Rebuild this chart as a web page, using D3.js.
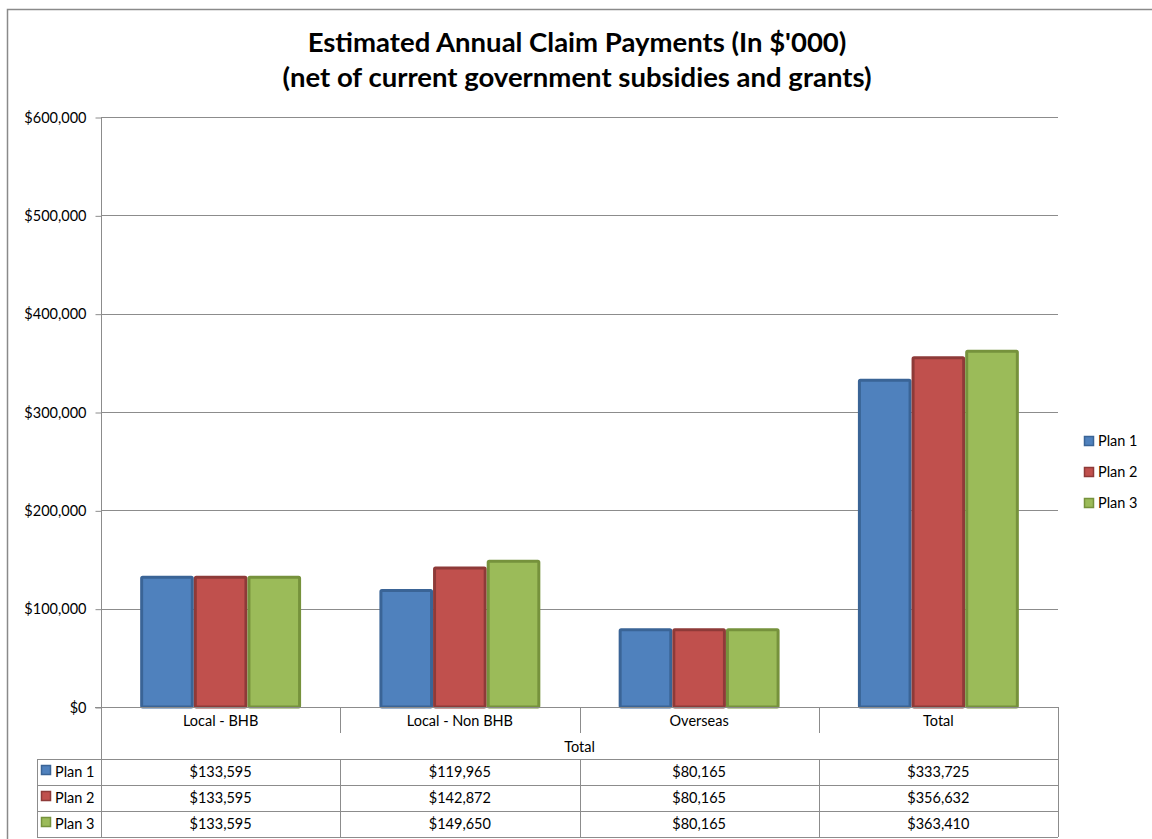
<!DOCTYPE html>
<html>
<head>
<meta charset="utf-8">
<script src="https://cdn.jsdelivr.net/npm/d3@7"></script>
<style>
  body { margin: 0; background: #fff; }
  svg { display: block; font-family: Lato, "Open Sans", sans-serif; }
</style>
</head>
<body>
<svg id="chart"></svg>
<script>
// chart data
var categories = ["Local - BHB", "Local - Non BHB", "Overseas", "Total"];
var series = ["Plan 1", "Plan 2", "Plan 3"];
var plan1 = [133595, 119965, 80165, 333725];
var plan2 = [133595, 142872, 80165, 356632];
var plan3 = [133595, 149650, 80165, 363410];
var yTicks = [0, 100000, 200000, 300000, 400000, 500000, 600000];
var titleLines = ["Estimated Annual Claim Payments (In $'000)", "(net of current government subsidies and grants)"];
var groupLabel = "Total";

var values = [plan1, plan2, plan3];
var fills = ["#4F81BD", "#C0504D", "#9BBB59"];
var strokes = ["#3A6496", "#8E3A38", "#76923C"];
var gridColor = "#8c8c8c";
var fs = 14.5;

var W = 1152, H = 839;
var svg = d3.select("#chart").attr("width", W).attr("height", H);

// outer chart border
svg.append("rect")
    .attr("x", 7.5).attr("y", 9.5)
    .attr("width", W).attr("height", H)
    .attr("fill", "none").attr("stroke", "#8a8a8a").attr("stroke-width", 1.5);

var plotL = 101, plotR = 1058, plotT = 117, plotB = 707;

var x0 = d3.scaleBand().domain(categories).range([plotL, plotR]);
var x1 = d3.scaleBand().domain(series).range([0, x0.bandwidth()]).paddingOuter(0.73);
var y = d3.scaleLinear().domain([0, 600000]).range([plotB, plotT]);

// title
svg.append("g").selectAll("text")
    .data(titleLines)
    .join("text")
    .attr("x", 577).attr("y", function (d, i) { return 52 + i * 35; })
    .attr("text-anchor", "middle")
    .attr("font-size", 27.5).attr("font-weight", "bold").attr("fill", "#000")
    .text(function (d) { return d; });

// gridlines
svg.append("g").selectAll("line")
    .data(yTicks.slice(1))
    .join("line")
    .attr("x1", plotL).attr("x2", plotR)
    .attr("y1", function (d) { return Math.round(y(d)) + 0.5; })
    .attr("y2", function (d) { return Math.round(y(d)) + 0.5; })
    .attr("stroke", gridColor);

// y axis
var yAxis = svg.append("g")
    .attr("transform", "translate(" + (plotL + 0.5) + ",0.5)")
    .call(d3.axisLeft(y).tickValues(yTicks).tickSize(6).tickPadding(9)
        .tickFormat(function (d) { return "$" + d3.format(",")(d); }));
yAxis.select(".domain").remove();
yAxis.selectAll("line").attr("stroke", gridColor);
yAxis.selectAll("text").attr("font-size", fs).attr("font-family", "Lato, sans-serif").attr("fill", "#000");

// bars
var groups = svg.append("g").selectAll("g")
    .data(series)
    .join("g");
groups.selectAll("rect")
    .data(function (s, si) { return values[si].map(function (v, ci) { return { s: s, si: si, c: categories[ci], v: v }; }); })
    .join("rect")
    .attr("x", function (d) { return x0(d.c) + x1(d.s) + 1.5; })
    .attr("y", function (d) { return y(d.v) + 1.5; })
    .attr("width", x1.bandwidth() - 3)
    .attr("height", function (d) { return plotB - y(d.v) - 1.5; })
    .attr("fill", function (d) { return fills[d.si]; })
    .attr("stroke", function (d) { return strokes[d.si]; })
    .attr("stroke-width", 3)
    .attr("rx", 1);

// data table
var tbl = svg.append("g").attr("stroke", gridColor).attr("fill", "none");
var rowTop = 759, rowH = 26, tblLeft = 37;
// horizontal axis line and table rules
tbl.append("line").attr("x1", 95).attr("x2", plotR).attr("y1", plotB + 0.5).attr("y2", plotB + 0.5);
for (var r = 0; r <= series.length; r++) {
    tbl.append("line").attr("x1", tblLeft).attr("x2", plotR)
        .attr("y1", rowTop + r * rowH + 0.5).attr("y2", rowTop + r * rowH + 0.5);
}
// verticals
tbl.append("line").attr("x1", plotL + 0.5).attr("x2", plotL + 0.5).attr("y1", plotT).attr("y2", rowTop + 3 * rowH);
tbl.append("line").attr("x1", plotR + 0.5).attr("x2", plotR + 0.5).attr("y1", plotB).attr("y2", rowTop + 3 * rowH);
tbl.append("line").attr("x1", tblLeft + 0.5).attr("x2", tblLeft + 0.5).attr("y1", rowTop).attr("y2", rowTop + 3 * rowH);
categories.slice(1).forEach(function (c) {
    var xx = Math.round(x0(c)) + 0.5;
    tbl.append("line").attr("x1", xx).attr("x2", xx).attr("y1", plotB).attr("y2", plotB + 26);
    tbl.append("line").attr("x1", xx).attr("x2", xx).attr("y1", rowTop).attr("y2", rowTop + 3 * rowH);
});

// category labels
svg.append("g").selectAll("text")
    .data(categories)
    .join("text")
    .attr("x", function (d) { return x0(d) + x0.bandwidth() / 2; })
    .attr("y", 726)
    .attr("text-anchor", "middle").attr("font-size", fs).attr("fill", "#000")
    .text(function (d) { return d; });

svg.append("text")
    .attr("x", (plotL + plotR) / 2).attr("y", 752)
    .attr("text-anchor", "middle").attr("font-size", fs).attr("fill", "#000")
    .text(groupLabel);

// table values
var fmt = function (v) { return "$" + d3.format(",")(v); };
series.forEach(function (s, si) {
    var yy = rowTop + si * rowH + 18;
    svg.append("rect")
        .attr("x", 41.5).attr("y", yy - 11.5).attr("width", 9).attr("height", 9)
        .attr("fill", fills[si]).attr("stroke", strokes[si]).attr("stroke-width", 1.5);
    svg.append("text").attr("x", 55).attr("y", yy)
        .attr("font-size", fs).attr("fill", "#000").text(s);
    svg.append("g").selectAll("text")
        .data(values[si])
        .join("text")
        .attr("x", function (d, ci) { return x0(categories[ci]) + x0.bandwidth() / 2; })
        .attr("y", yy)
        .attr("text-anchor", "middle").attr("font-size", fs).attr("fill", "#000")
        .text(fmt);
});

// legend
var leg = svg.append("g").selectAll("g")
    .data(series)
    .join("g")
    .attr("transform", function (d, i) { return "translate(1084," + (441 + i * 31) + ")"; });
leg.append("rect")
    .attr("x", 0.5).attr("y", -4.5).attr("width", 9).attr("height", 9)
    .attr("fill", function (d, i) { return fills[i]; })
    .attr("stroke", function (d, i) { return strokes[i]; }).attr("stroke-width", 1.5);
leg.append("text")
    .attr("x", 14).attr("y", 5)
    .attr("font-size", fs).attr("fill", "#000")
    .text(function (d) { return d; });
</script>
</body>
</html>
